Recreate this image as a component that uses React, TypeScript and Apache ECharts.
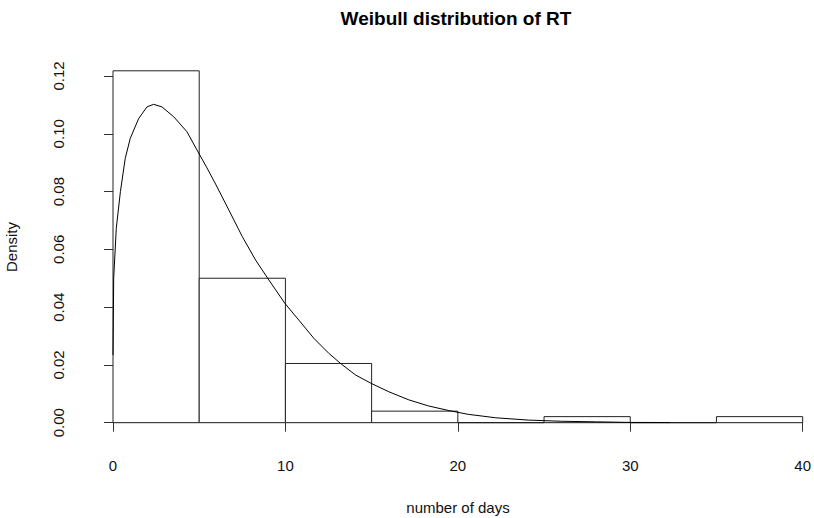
import React, { useEffect, useRef } from "react";
import * as echarts from "echarts";

// Histogram bins (number of days) and their densities
const binStarts = [0, 5, 10, 15, 20, 25, 30, 35];
const binEnds = [5, 10, 15, 20, 25, 30, 35, 40];
const binDensity = [0.1218, 0.05, 0.0205, 0.004, 0, 0.0021, 0, 0.0021];

// Fitted Weibull density curve
const curveX = [0, 0.04, 0.19, 0.43, 0.71, 1.0, 1.49, 1.97, 2.36, 2.84, 3.52, 4.29, 4.87, 5.45, 5.95, 6.72, 7.5, 8.27, 9.04, 9.97, 10.78, 11.65, 12.52, 13.2, 14.07, 14.98, 16.0, 17.16, 18.3, 19.48, 20.6, 22.2, 24.1, 26, 28, 30, 32.3];
const curveY = [0.0234, 0.05, 0.0673, 0.08, 0.0915, 0.0984, 0.1053, 0.1093, 0.1102, 0.1093, 0.1059, 0.1007, 0.0944, 0.0882, 0.0826, 0.0736, 0.0644, 0.0563, 0.0494, 0.0413, 0.0355, 0.0292, 0.024, 0.0205, 0.0165, 0.0136, 0.0107, 0.0079, 0.0058, 0.0042, 0.0029, 0.0017, 0.0009, 0.0005, 0.0003, 0.0001, 0.00005];

const xTicks = [0, 10, 20, 30, 40];
const yTicks = ["0.00", "0.02", "0.04", "0.06", "0.08", "0.10", "0.12"];

const titleText = "Weibull distribution of RT";
const xLabel = "number of days";
const yLabel = "Density";

const FONT = "'Liberation Sans', Arial, sans-serif";

export default function App() {
  const ref = useRef<HTMLDivElement>(null);
  useEffect(() => {
    if (!ref.current) return;
    const chart = echarts.init(ref.current, null, { renderer: "svg" });
    const bars = binStarts.map((s, i) => [s, binEnds[i], binDensity[i]]);
    const curve = curveX.map((x, i) => [x, curveY[i]]);
    chart.setOption({
      animation: false,
      backgroundColor: "#ffffff",
      textStyle: { fontFamily: FONT },
      grid: { left: 113, right: 10.7, top: 76, bottom: 95.3 },
      xAxis: {
        type: "value",
        min: xTicks[0],
        max: xTicks[xTicks.length - 1],
        interval: 10,
        offset: 14,
        splitLine: { show: false },
        axisLine: { show: true, lineStyle: { color: "#333", width: 1 } },
        axisTick: { show: true, length: 9, lineStyle: { color: "#333", width: 1 } },
        axisLabel: { margin: 21, color: "#111", fontSize: 15, fontFamily: FONT },
      },
      yAxis: {
        type: "value",
        min: 0,
        max: 0.12,
        interval: 0.02,
        offset: 28,
        splitLine: { show: false },
        axisLine: { show: true, lineStyle: { color: "#333", width: 1 } },
        axisTick: { show: true, length: 9, lineStyle: { color: "#333", width: 1 } },
        axisLabel: {
          rotate: 90,
          margin: 19,
          color: "#111",
          fontSize: 15,
          fontFamily: FONT,
          formatter: (v: number) => yTicks[Math.round(v / 0.02)] ?? v.toFixed(2),
        },
      },
      graphic: [
        {
          type: "text",
          x: 456,
          y: 18,
          style: {
            text: titleText,
            textAlign: "center",
            textVerticalAlign: "middle",
            font: `bold 19px ${FONT}`,
            fill: "#000",
          },
        },
        {
          type: "text",
          x: 458,
          y: 507,
          style: {
            text: xLabel,
            textAlign: "center",
            textVerticalAlign: "middle",
            font: `15px ${FONT}`,
            fill: "#111",
          },
        },
        {
          type: "text",
          x: 11,
          y: 247,
          rotation: Math.PI / 2,
          style: {
            text: yLabel,
            textAlign: "center",
            textVerticalAlign: "middle",
            font: `15px ${FONT}`,
            fill: "#111",
          },
        },
      ],
      series: [
        {
          type: "custom",
          data: bars,
          encode: { x: [0, 1], y: 2 },
          renderItem: (params: any, api: any) => {
            const p0 = api.coord([api.value(0), 0]);
            const p1 = api.coord([api.value(1), api.value(2)]);
            return {
              type: "rect",
              shape: {
                x: p0[0],
                y: p1[1],
                width: p1[0] - p0[0],
                height: p0[1] - p1[1],
              },
              style: { fill: "#ffffff", stroke: "#222", lineWidth: 1 },
            };
          },
          z: 1,
        },
        {
          type: "line",
          data: curve,
          showSymbol: false,
          symbol: "none",
          smooth: false,
          lineStyle: { color: "#000", width: 1 },
          z: 2,
        },
      ],
    });
    return () => chart.dispose();
  }, []);
  return (
    <div
      ref={ref}
      style={{ position: "fixed", left: 0, top: 0, width: 814, height: 518, background: "#fff" }}
    />
  );
}
